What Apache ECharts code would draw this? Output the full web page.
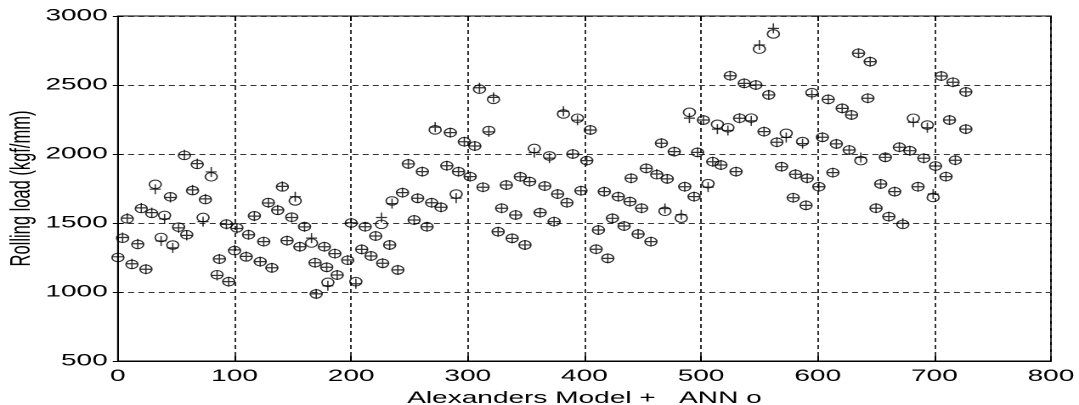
<!DOCTYPE html>
<html>
<head>
<meta charset="utf-8">
<script src="https://cdn.jsdelivr.net/npm/echarts@6/dist/echarts.min.js"></script>
<style>
  html, body { margin: 0; padding: 0; background: #fff; overflow: hidden; }
  #chart { width: 635px; height: 405px; transform: scaleX(1.6992); transform-origin: 0 0; }
</style>
</head>
<body>
<div id="chart"></div>
<script>
// ---- data ----
const sampleX = [0,4,8,12,17,20,24,29,32,37,40,45,47,52,57,59,64,68,73,75,80,85,87,93,95,
  100,102,110,112,117,122,125,129,132,137,141,145,149,152,156,160,166,169,170,177,179,180,186,188,197,
  200,204,209,212,217,221,226,227,233,235,240,244,249,254,257,261,265,269,272,277,282,285,290,292,297,
  302,306,310,313,318,322,326,329,333,338,341,345,349,353,357,362,366,370,374,377,382,385,390,394,397,
  402,405,410,412,417,420,424,429,434,439,440,446,449,453,457,462,466,469,471,477,483,486,490,494,497,
  502,506,510,514,517,523,525,530,533,537,543,547,550,554,558,562,565,569,573,579,581,587,590,591,595,
  601,604,609,613,616,621,627,629,635,637,643,645,650,654,658,661,666,670,673,679,682,686,691,694,699,
  701,706,710,713,716,718,727,727];
const alexandersLoad = [1255,1395,1535,1205,1350,1610,1165,1575,1745,1370,1530,1685,1320,1465,1995,1410,1740,1930,1510,1675,1870,1120,1240,1490,1075,
  1305,1460,1258,1415,1550,1220,1365,1645,1176,1595,1765,1372,1540,1690,1328,1472,1390,1212,986,1328,1179,1045,1278,1123,1232,
  1502,1060,1309,1473,1261,1406,1540,1208,1341,1640,1160,1720,1928,1522,1679,1872,1473,1647,2195,1614,1915,2155,1680,1872,2089,
  1836,2058,2480,1759,2160,2410,1437,1607,1775,1389,1558,1835,1341,1800,2010,1575,1768,1970,1510,1710,2310,1647,2000,2245,1734,
  1952,2174,1310,1449,1727,1244,1534,1691,1478,1655,1824,1420,1607,1896,1365,1855,2078,1605,1820,2017,1560,1763,2260,1691,2012,
  2246,1760,1944,2180,1920,2170,2567,1872,2259,2512,2240,2500,2790,2162,2428,2910,2085,1908,2120,1683,1853,2075,1628,1824,2430,
  1763,2121,2396,1865,2073,2331,2029,2283,2730,1975,2404,2669,1607,1783,1976,1546,1727,2049,1498,2024,2230,1763,1969,2190,1710,
  1913,2565,1836,2246,2520,1955,2450,2180];
const annLoad = [1250,1390,1530,1200,1345,1605,1165,1570,1780,1395,1555,1690,1340,1470,1990,1415,1735,1925,1540,1670,1835,1125,1238,1492,1075,
  1300,1465,1255,1415,1552,1220,1365,1648,1175,1592,1762,1372,1542,1660,1328,1474,1355,1212,986,1328,1179,1070,1278,1123,1230,
  1500,1075,1309,1473,1261,1406,1490,1208,1341,1660,1160,1720,1928,1522,1679,1872,1473,1647,2175,1614,1915,2155,1710,1872,2089,
  1836,2058,2470,1759,2170,2396,1437,1607,1775,1389,1558,1835,1341,1800,2040,1575,1768,1986,1510,1710,2290,1647,2000,2259,1734,
  1952,2174,1310,1449,1727,1244,1534,1691,1478,1655,1824,1420,1607,1896,1365,1850,2078,1585,1820,2017,1535,1763,2302,1691,2012,
  2246,1785,1944,2215,1920,2190,2567,1872,2259,2512,2260,2500,2760,2162,2428,2870,2085,1908,2150,1683,1853,2090,1628,1824,2444,
  1763,2121,2396,1865,2073,2331,2029,2283,2730,1952,2404,2669,1607,1783,1976,1546,1727,2049,1490,2024,2259,1763,1969,2210,1685,
  1913,2565,1836,2246,2520,1955,2450,2180];
const xTicks = [0, 100, 200, 300, 400, 500, 600, 700, 800];
const yTicks = [500, 1000, 1500, 2000, 2500, 3000];
const xTitle = 'Alexanders Model +   ANN o';
const yTitle = 'Rolling load (kgf/mm)';

// ---- chart ----
const chart = echarts.init(document.getElementById('chart'), null, { devicePixelRatio: 2 });
const font = 'Liberation Sans, Arial, Helvetica, sans-serif';
const modelData = sampleX.map((x, i) => [x, alexandersLoad[i]]);
const annData = sampleX.map((x, i) => [x, annLoad[i]]);
const xMin = xTicks[0], xMax = xTicks[xTicks.length - 1], xInt = xTicks[1] - xTicks[0];
const yMin = yTicks[0], yMax = yTicks[yTicks.length - 1], yInt = yTicks[1] - yTicks[0];
const plain = v => String(v);

const plusPath = 'path://M0,5L10,5M5,0L5,10';
const ellipsePath = 'path://M0,5A5,5,0,1,1,10,5A5,5,0,1,1,0,5Z';

chart.setOption({
  animation: false,
  backgroundColor: '#fff',
  grid: { left: 69.4, right: 16.5, top: 16, bottom: 44, containLabel: false, outerBoundsMode: 'none',
          show: true, borderColor: '#000', borderWidth: 1, backgroundColor: '#fff' },
  xAxis: [{
    type: 'value', min: xMin, max: xMax, interval: xInt, position: 'bottom',
    name: xTitle, nameLocation: 'middle', nameGap: 29, nameMoveOverlap: false,
    nameTextStyle: { fontFamily: font, fontSize: 16.5, color: '#000' },
    axisLine: { show: true, lineStyle: { color: '#000', width: 1 } },
    axisTick: { show: true, inside: true, length: 5, lineStyle: { color: '#000' } },
    axisLabel: { fontFamily: font, fontSize: 16.5, color: '#000', margin: 7, formatter: plain },
    splitLine: { show: true, lineStyle: { color: '#333', width: 1, type: [4, 3] } }
  }, {
    type: 'value', min: xMin, max: xMax, interval: xInt, position: 'top',
    axisLine: { show: false }, axisLabel: { show: false }, splitLine: { show: false },
    axisTick: { show: true, inside: true, length: 5, lineStyle: { color: '#000' } }
  }],
  yAxis: [{
    type: 'value', min: yMin, max: yMax, interval: yInt, position: 'left',
    name: yTitle, nameLocation: 'middle', nameGap: 48, nameMoveOverlap: false,
    nameTextStyle: { fontFamily: font, fontSize: 16.5, color: '#000' },
    axisLine: { show: true, lineStyle: { color: '#000', width: 1 } },
    axisTick: { show: true, inside: true, length: 3, lineStyle: { color: '#000' } },
    axisLabel: { fontFamily: font, fontSize: 16.5, color: '#000', margin: 6, formatter: plain },
    splitLine: { show: true, lineStyle: { color: '#333', width: 1, type: [3.5, 2.5] } }
  }, {
    type: 'value', min: yMin, max: yMax, interval: yInt, position: 'right',
    axisLine: { show: false }, axisLabel: { show: false }, splitLine: { show: false },
    axisTick: { show: true, inside: true, length: 3, lineStyle: { color: '#000' } }
  }],
  series: [{
    name: 'Alexanders Model', type: 'scatter', xAxisIndex: 0, yAxisIndex: 0,
    data: modelData, symbol: plusPath, symbolSize: [6.5, 10],
    itemStyle: { color: 'rgba(0,0,0,0)', borderColor: '#000', borderWidth: 1 },
    emphasis: { disabled: true }, z: 3
  }, {
    name: 'ANN', type: 'scatter', xAxisIndex: 0, yAxisIndex: 0,
    data: annData, symbol: ellipsePath, symbolSize: [7, 8.5],
    itemStyle: { color: 'rgba(0,0,0,0)', borderColor: '#000', borderWidth: 1 },
    emphasis: { disabled: true }, z: 2
  }]
});
</script>
</body>
</html>
